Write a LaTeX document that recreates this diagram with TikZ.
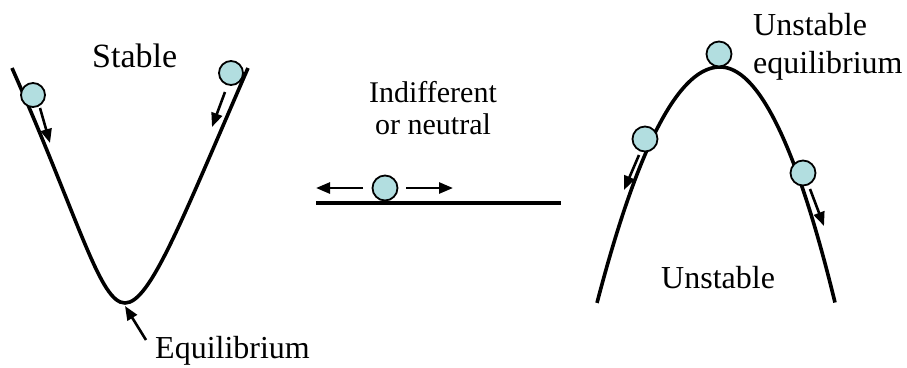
\documentclass[tikz,border=0pt]{standalone}
\usepackage{fontspec}
\setmainfont{Liberation Serif}
\usetikzlibrary{arrows.meta}
\begin{document}
\begin{tikzpicture}[x=1pt,y=-1pt,
  curve/.style={line width=3.6pt},
  ball/.style={circle,draw=black,line width=1.8pt,fill=ballcol,minimum size=24pt,inner sep=0pt},
  move/.style={line width=2.6pt,-{Triangle[length=14pt,width=11pt]}},
  lbl/.style={inner sep=0pt,anchor=base west,font=\fontsize{32}{38}\selectfont}]
\definecolor{ballcol}{RGB}{178,222,224}
\useasboundingbox (0,0) rectangle (907,367);
% Stable well
\draw[curve] (12,68) .. controls (80,222) and (100,303) .. (125,303)
  .. controls (150,303) and (181,222) .. (248,68);
\node[ball] (s1) at (33,95) {};
\node[ball] (s2) at (231,73) {};
\coordinate (s1a) at (40,108); \coordinate (s1b) at (50,143);
\coordinate (s2a) at (225,92); \coordinate (s2b) at (212,127);
\draw[move] (s1a) -- (s1b);
\draw[move] (s2a) -- (s2b);
\node[lbl,font=\fontsize{34}{38}\selectfont] (stable) at (92,67) {Stable};
\node[lbl] (eq) at (155,358) {Equilibrium};
\coordinate (eqt) at (125,306);
\coordinate (eqs) at (146,340);
\draw[move] (eqs) -- (eqt);
% Neutral
\coordinate (nl) at (316,203); \coordinate (nr) at (561,203);
\draw[curve] (nl) -- (nr);
\node[ball,minimum size=25pt] (n1) at (385,188) {};
\coordinate (na) at (363,188); \coordinate (nb) at (316,188);
\coordinate (nc) at (406,188); \coordinate (nd) at (453,188);
\draw[move] (na) -- (nb);
\draw[move] (nc) -- (nd);
\node[inner sep=0pt,anchor=base,font=\fontsize{30}{32}\selectfont] (ind) at (433,102) {Indifferent};
\node[inner sep=0pt,anchor=base,font=\fontsize{30}{32}\selectfont] (neu) at (433,134) {or neutral};
% Unstable hill
\draw[curve] plot[domain=-123:0,samples=60,smooth] ({720+\x},{67+0.0156*\x*\x})
  -- plot[domain=0:115,samples=60,smooth] ({720+\x},{67+0.0178*\x*\x});
\node[ball,minimum size=25pt] (u0) at (719,54) {};
\node[ball,minimum size=25pt] (u1) at (645,139) {};
\node[ball,minimum size=25pt] (u2) at (803,173) {};
\coordinate (u1a) at (639,155); \coordinate (u1b) at (624,190);
\coordinate (u2a) at (810,189); \coordinate (u2b) at (824,226);
\draw[move] (u1a) -- (u1b);
\draw[move] (u2a) -- (u2b);
\node[lbl] (ue1) at (753,35) {Unstable};
\node[lbl] (ue2) at (753,73) {equilibrium};
\node[lbl] (un) at (661,288) {Unstable};
\end{tikzpicture}
\end{document}
